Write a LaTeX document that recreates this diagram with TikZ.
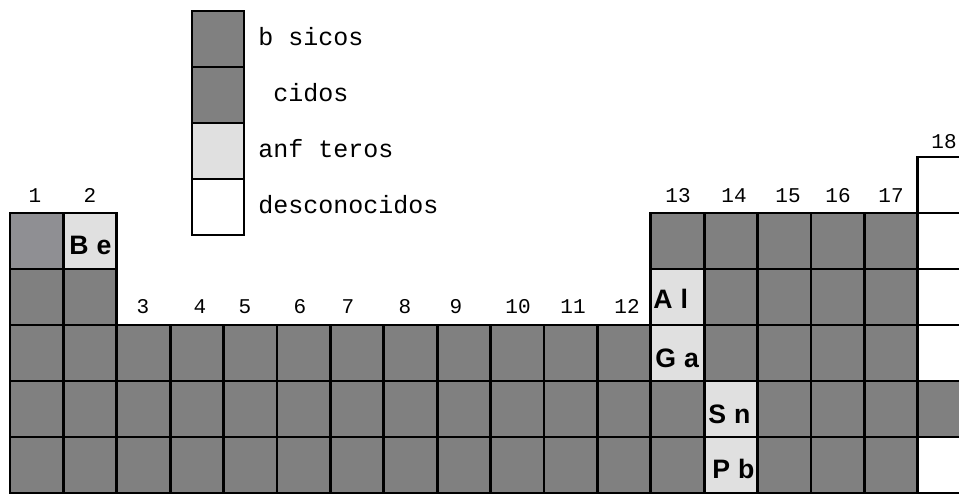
\documentclass[tikz,border=0pt]{standalone}
\usepackage{fontspec}
\setmainfont{Liberation Sans}
\setmonofont{Liberation Mono}
\definecolor{basico}{RGB}{128,128,128}
\definecolor{anfotero}{RGB}{224,224,224}
\definecolor{hidro}{RGB}{143,143,147}
\newcommand{\simbolo}[2]{#1\hspace{6pt}#2}
\tikzset{
  cell/.style={draw, line width=2pt, fill=basico, minimum width=40.05pt, minimum height=42pt, inner sep=0pt, outer sep=0pt},
  grp/.style={anchor=base, inner sep=0pt, font=\fontsize{15.75}{16}\selectfont\ttfamily},
  sym/.style={anchor=base west, inner sep=0pt, font=\fontsize{20}{22}\selectfont\bfseries},
  leyenda/.style={anchor=base west, inner sep=0pt, font=\fontsize{18.75}{20}\selectfont\ttfamily}
}
\begin{document}
\begin{tikzpicture}[x=0.75pt, y=-0.75pt]
  \useasboundingbox (0,0) rectangle (959,493);
  % legend
  \node [cell, minimum width=39pt] (bas) at (218,39) {};
  \node [cell, minimum width=39pt] (aci) at (218,95) {};
  \node [cell, minimum width=39pt, fill=anfotero] (anf) at (218,151) {};
  \node [cell, minimum width=39pt, fill=white] (des) at (218,207) {};
  \node [leyenda] (t-bas) at (258,45) {b sicos};
  \node [leyenda] (t-aci) at (258,101) {\hphantom{a}cidos};
  \node [leyenda] (t-anf) at (258,157) {anf teros};
  \node [leyenda] (t-des) at (258,213) {desconocidos};
  % basic cells
  \foreach \r/\a/\b in {1/13/17, 2/1/2, 2/14/17, 3/1/12, 3/14/17, 4/1/13, 4/15/18, 5/1/13, 5/15/17}
    \foreach \c in {\a,...,\b}
      \node [cell] (c\r-\c) at ({10+(\c-0.5)*53.4},{213+(\r-0.5)*56}) {};
  % amphoteric cells
  \foreach \r/\c in {1/2, 2/13, 3/13, 4/14, 5/14}
    \node [cell, fill=anfotero] (c\r-\c) at ({10+(\c-0.5)*53.4},{213+(\r-0.5)*56}) {};
  % unknown cells
  \foreach \r in {0,1,2,3,5}
    \node [cell, fill=white] (c\r-18) at ({10+17.5*53.4},{213+(\r-0.5)*56}) {};
  \node [cell, fill=hidro] (c1-1) at ({10+0.5*53.4},241) {};
  % symbols
  \node [sym] (be) at (69,254) {\simbolo{B}{e}};
  \node [sym] (al) at (653,308) {\simbolo{A}{l}};
  \node [sym] (ga) at (655,367) {\simbolo{G}{a}};
  \node [sym] (sn) at (708,423) {\simbolo{S}{n}};
  \node [sym] (pb) at (712,478) {\simbolo{P}{b}};
  % group numbers
  \foreach \n/\x/\y in {1/35/202, 2/90/202, 3/143/313, 4/200/313, 5/245/313, 6/300/313, 7/348/313, 8/405/313, 9/456/313, 10/518/313, 11/573/313, 12/627/313, 13/678/202, 14/734/202, 15/788/202, 16/838/202, 17/891/202, 18/944/148}
    \node [grp] (g\n) at (\x,\y) {\n};
\end{tikzpicture}
\end{document}
